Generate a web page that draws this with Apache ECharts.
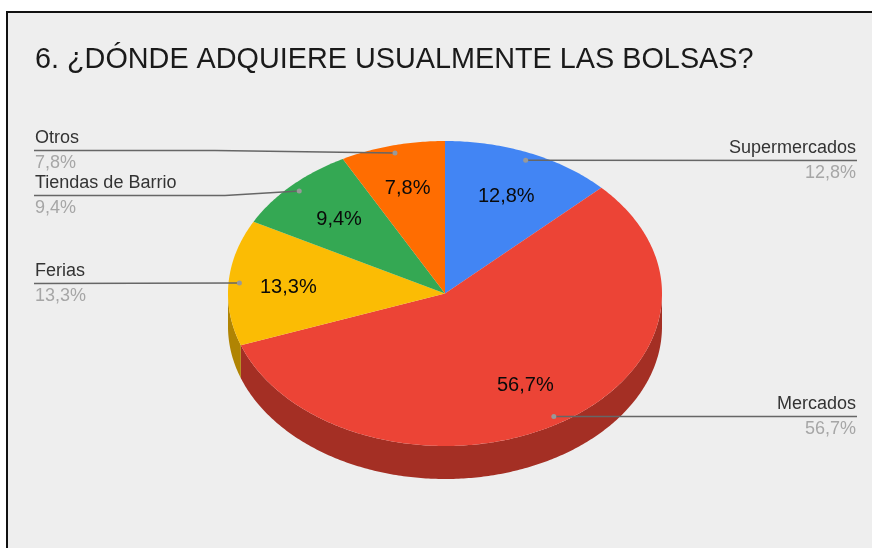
<!DOCTYPE html>
<html>
<head>
<meta charset="utf-8">
<style>html,body{margin:0;padding:0;background:#fff}#c{width:872px;height:548px;filter:blur(0.35px)}</style>
<script src="https://cdn.jsdelivr.net/npm/echarts@6/dist/echarts.min.js"></script>
</head>
<body>
<div id="c"></div>
<script>
const categories = ['Supermercados', 'Mercados', 'Ferias', 'Tiendas de Barrio', 'Otros'];
const values = [12.8, 56.7, 13.3, 9.4, 7.8];
const topColors = ['#4285f4', '#ec4436', '#fbbc04', '#34a853', '#ff6d01'];
const sideColors = ['#2e5daa', '#a42f24', '#b08403', '#247538', '#b24c01'];
const titleText = '6. ¿DÓNDE ADQUIERE USUALMENTE LAS BOLSAS?';

// layout
const CX = 445, CY = 293.5, RX = 217, RY = 152.5, DEPTH = 33;
const LEFT_X = 34, RIGHT_X = 857;
const FONT = '"Liberation Sans", Arial, sans-serif';
const leaders = [
  { side: 'right', y: 160.5, nudge: [1, 3] },
  { side: 'right', y: 416.5, nudge: [-1, 0] },
  { side: 'left', y: 283.5, nudge: [-3, 2] },
  { side: 'left', y: 195.5, bend: 225, nudge: [3, 3] },
  { side: 'left', y: 150.5, bend: 215, nudge: [0, 0] }
];

const total = values.reduce((a, b) => a + b, 0);
const starts = [];
values.reduce((acc, v, i) => { starts[i] = acc; return acc + v; }, 0);
const rad = d => d * Math.PI / 180;
const angleOf = pct => pct / total * 360;
const pt = (deg, f, dy) => [CX + RX * f * Math.sin(rad(deg)), CY + (dy || 0) - RY * f * Math.cos(rad(deg))];
function arc(a, b, dy) {
  const n = Math.max(2, Math.ceil(Math.abs(b - a) * 1.5));
  const out = [];
  for (let i = 0; i <= n; i++) out.push(pt(a + (b - a) * i / n, 1, dy));
  return out;
}
const fmt = v => v.toFixed(1).replace('.', ',') + '%';
const seriesData = categories.map((name, i) => ({ name, value: values[i] }));

function renderSide(params, api) {
  const i = params.dataIndex;
  const a = Math.max(angleOf(starts[i]), 90);
  const b = Math.min(angleOf(starts[i] + api.value(0)), 270);
  if (b <= a) return { type: 'group', children: [] };
  return {
    type: 'polygon',
    shape: { points: arc(a, b, 0).concat(arc(b, a, DEPTH)) },
    style: { fill: sideColors[i] }
  };
}
function renderTop(params, api) {
  const i = params.dataIndex;
  const a = angleOf(starts[i]), b = angleOf(starts[i] + api.value(0));
  return {
    type: 'polygon',
    shape: { points: [[CX, CY]].concat(arc(a, b, 0)) },
    style: { fill: topColors[i] }
  };
}
function renderLabels(params, api) {
  const i = params.dataIndex;
  const v = api.value(0);
  const mid = angleOf(starts[i] + v / 2);
  const inner = pt(mid, 0.71);
  const anchor = pt(mid, 0.95);
  const L = leaders[i];
  const endX = L.side === 'left' ? LEFT_X : RIGHT_X;
  const textX = L.side === 'left' ? LEFT_X + 1 : RIGHT_X - 1;
  const pts = L.bend ? [anchor, [L.bend, L.y], [endX, L.y]] : [anchor, [endX, L.y]];
  return {
    type: 'group',
    children: [
      { type: 'polyline', shape: { points: pts }, style: { stroke: '#666666', lineWidth: 1.4, fill: null } },
      { type: 'circle', shape: { cx: anchor[0], cy: anchor[1], r: 2.5 }, style: { fill: '#999999' } },
      { type: 'text', x: inner[0] + L.nudge[0], y: inner[1] + L.nudge[1], style: { text: fmt(v), fill: '#0a0a0a', font: '20px ' + FONT, align: 'center', verticalAlign: 'middle' } },
      { type: 'text', x: textX, y: L.y - 3, style: { text: categories[i], fill: '#333333', font: '18px ' + FONT, align: L.side, verticalAlign: 'bottom' } },
      { type: 'text', x: textX, y: L.y + 4, style: { text: fmt(v), fill: '#a6a6a6', font: '18px ' + FONT, align: L.side, verticalAlign: 'top' } }
    ]
  };
}
const mk = (renderItem, z) => ({ type: 'custom', coordinateSystem: 'none', renderItem, data: seriesData, encode: { value: 0 }, z, silent: true, animation: false, clip: false });

const chart = echarts.init(document.getElementById('c'), null, { renderer: 'canvas', width: 872, height: 548 });
chart.setOption({
  animation: false,
  backgroundColor: '#ffffff',
  graphic: [{ type: 'rect', z: -10, shape: { x: 7, y: 12, width: 880, height: 560 }, style: { fill: '#eeeeee', stroke: '#111111', lineWidth: 2 } }],
  title: { text: titleText, left: 35, top: 46, padding: 0, textStyle: { fontFamily: FONT, fontSize: 28.8, fontWeight: 'normal', color: '#1a1a1a' } },
  series: [mk(renderSide, 1), mk(renderTop, 2), mk(renderLabels, 3)]
});
</script>
</body>
</html>
